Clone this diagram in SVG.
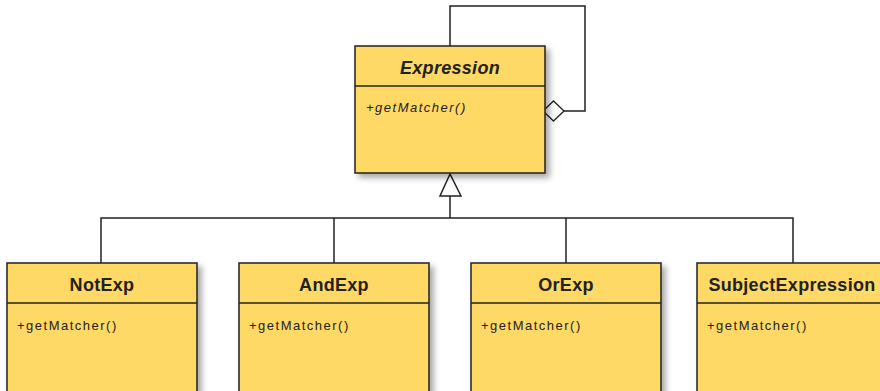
<svg xmlns="http://www.w3.org/2000/svg" width="880" height="391" viewBox="0 0 880 391">
<style>
.box{fill:#FFD966;stroke:#222;stroke-width:1.5}
.div{stroke:#222;stroke-width:1.3}
.title{font-family:"Liberation Sans",Arial,sans-serif;font-size:18px;font-weight:bold;fill:#222;text-anchor:middle;letter-spacing:0.3px}
.op{font-family:"Liberation Sans",Arial,sans-serif;font-size:13px;fill:#222;letter-spacing:1.5px}
.it{font-style:italic}
.edge{fill:none;stroke:#222;stroke-width:1.5}
</style>
<defs>
<filter id="sh" x="-10%" y="-10%" width="130%" height="130%">
<feGaussianBlur in="SourceAlpha" stdDeviation="3"/>
<feOffset dx="4" dy="4"/>
<feComponentTransfer><feFuncA type="linear" slope="0.35"/></feComponentTransfer>
<feMerge><feMergeNode/><feMergeNode in="SourceGraphic"/></feMerge>
</filter>
</defs>
<g id="connectors">
<polyline class="edge" points="450,46 450,6 585,6 585,111 564,111"/>
<polygon points="543,111 553.5,101 564,111 553.5,121" fill="#fff" stroke="#222" stroke-width="1.3"/>
<polyline class="edge" points="450,196 450,218"/>
<polyline class="edge" points="101,263 101,218 793,218 793,263"/>
<line class="edge" x1="334" y1="218" x2="334" y2="263"/>
<line class="edge" x1="566" y1="218" x2="566" y2="263"/>
<polygon points="450,174 440,196 461,196" fill="#fff" stroke="#222" stroke-width="1.5"/>
</g>
<g id="Expression">
<rect class="box" x="355" y="46" width="190" height="127" filter="url(#sh)"/>
<line class="div" x1="355" y1="86" x2="545" y2="86"/>
<text class="title it" x="450" y="74">Expression</text>
<text class="op it" x="366" y="112">+getMatcher()</text>
</g>
<g id="NotExp">
<rect class="box" x="7" y="263" width="190" height="140" filter="url(#sh)"/>
<line class="div" x1="7" y1="303" x2="197" y2="303"/>
<text class="title" x="102" y="291">NotExp</text>
<text class="op" x="17" y="330">+getMatcher()</text>
</g>
<g id="AndExp">
<rect class="box" x="239" y="263" width="190" height="140" filter="url(#sh)"/>
<line class="div" x1="239" y1="303" x2="429" y2="303"/>
<text class="title" x="334" y="291">AndExp</text>
<text class="op" x="249" y="330">+getMatcher()</text>
</g>
<g id="OrExp">
<rect class="box" x="471" y="263" width="190" height="140" filter="url(#sh)"/>
<line class="div" x1="471" y1="303" x2="661" y2="303"/>
<text class="title" x="566" y="291">OrExp</text>
<text class="op" x="481" y="330">+getMatcher()</text>
</g>
<g id="SubjectExpression">
<rect class="box" x="697" y="263" width="190" height="140" filter="url(#sh)"/>
<line class="div" x1="697" y1="303" x2="887" y2="303"/>
<text class="title" x="792" y="291">SubjectExpression</text>
<text class="op" x="707" y="330">+getMatcher()</text>
</g>
</svg>
